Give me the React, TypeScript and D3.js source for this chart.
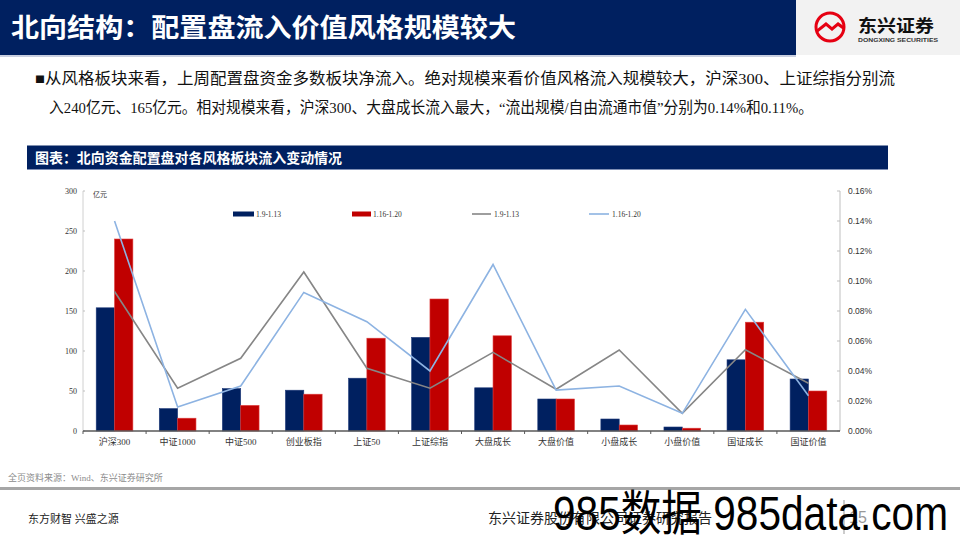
import React from "react";
import * as d3 from "d3";

const categories = ["沪深300", "中证1000", "中证500", "创业板指", "上证50", "上证综指", "大盘成长", "大盘价值", "小盘成长", "小盘价值", "国证成长", "国证价值"];
const barSeriesNames = ["1.9-1.13", "1.16-1.20"];
const barWeek1 = [154, 28, 53, 51, 66, 117, 54, 40, 15, 5, 89, 65];
const barWeek2 = [240, 16, 32, 46, 116, 165, 119, 40, 7.5, 3.5, 136, 50];
const lineWeek1 = [0.093, 0.0285, 0.0485, 0.106, 0.0418, 0.0285, 0.0524, 0.0278, 0.054, 0.0118, 0.0542, 0.0318];
const lineWeek2 = [0.140, 0.016, 0.030, 0.0924, 0.0729, 0.040, 0.111, 0.0273, 0.030, 0.0118, 0.0811, 0.0235];
const leftTicks = [0, 50, 100, 150, 200, 250, 300];
const rightTicks = [0, 0.02, 0.04, 0.06, 0.08, 0.10, 0.12, 0.14, 0.16];

const NAVY = "#002060";
const RED = "#C00000";
const GRAY = "#868686";
const LBLUE = "#8DB3E2";
const SERIF = "'Liberation Serif', 'Times New Roman', 'Noto Sans CJK SC', serif";
const SANS = "'Liberation Sans', Arial, 'Noto Sans CJK SC', sans-serif";
const CJK = "'Noto Sans CJK SC', 'Liberation Sans', sans-serif";

export default function App() {
  const W = 960, H = 540;
  const x0 = 83, x1 = 840, yZero = 431, yTop = 191;
  const x = d3.scaleBand<string>().domain(categories).range([x0, x1]).padding(0);
  const inner = d3.scaleBand<string>().domain(barSeriesNames).range([0, x.bandwidth()]).paddingInner(0).paddingOuter(0.72);
  const yL = d3.scaleLinear().domain([0, 300]).range([yZero, yTop]);
  const yR = d3.scaleLinear().domain([0, 0.16]).range([yZero, yTop]);
  const cx = (c: string) => (x(c) as number) + x.bandwidth() / 2;
  const lineGen = d3.line<number>().x((_, i) => cx(categories[i])).y((v) => yR(v));

  const bars = [barWeek1, barWeek2];
  const barColors = [NAVY, RED];
  const barStroke = ["#1F3A7A", "#E03C3C"];

  return (
    <svg width={W} height={H} style={{ position: "absolute", left: 0, top: 0, display: "block" }}>
      <rect x={0} y={0} width={W} height={H} fill="#fff" />
      {/* Header */}
      <rect x={0} y={0} width={796} height={55} fill={NAVY} />
      <rect x={796} y={0} width={164} height={55} fill="#F2F2F2" />
      <rect x={0} y={55} width={796} height={2} fill="#C9CFE0" />
      <text x={11} y={37} fill="#fff" fontFamily={CJK} fontWeight={700} fontSize={26} textLength={505} lengthAdjust="spacingAndGlyphs">北向结构：配置盘流入价值风格规模较大</text>
      {/* Logo */}
      <g>
        <circle cx={830} cy={27} r={14} fill="none" stroke="#E60012" strokeWidth={3} />
        <path d="M816,30 L826,22 L832,27 L838,22 L845,27 L845,31 L838,26 L832,31 L826,26 L817,33 Z" fill="#E60012" />
        <text x={858} y={32} fill="#111" fontFamily={CJK} fontWeight={700} fontSize={17} textLength={76} lengthAdjust="spacingAndGlyphs">东兴证券</text>
        <text x={858} y={42} fill="#333" fontFamily={SANS} fontWeight={700} fontSize={5.5} textLength={80} lengthAdjust="spacingAndGlyphs">DONGXING SECURITIES</text>
      </g>
      {/* Paragraph */}
      <text x={35} y={84} fill="#111" fontFamily={SERIF} fontSize={15.5} textLength={860} lengthAdjust="spacingAndGlyphs">■从风格板块来看，上周配置盘资金多数板块净流入。绝对规模来看价值风格流入规模较大，沪深300、上证综指分别流</text>
      <text x={49} y={113} fill="#111" fontFamily={SERIF} fontSize={15.5} textLength={764} lengthAdjust="spacingAndGlyphs">入240亿元、165亿元。相对规模来看，沪深300、大盘成长流入最大，“流出规模/自由流通市值”分别为0.14%和0.11%。</text>
      {/* Chart title bar */}
      <rect x={27} y={145.5} width={861} height={24} fill={NAVY} />
      <rect x={27} y={169} width={861} height={1} fill="#7F8FB5" />
      <text x={35} y={163} fill="#fff" fontFamily={CJK} fontWeight={700} fontSize={14} textLength={307} lengthAdjust="spacingAndGlyphs">图表：北向资金配置盘对各风格板块流入变动情况</text>

      {/* Axes */}
      <line x1={x0} x2={x0} y1={yTop} y2={yZero} stroke="#D0D0D0" strokeWidth={1} />
      {leftTicks.map((t) => (
        <g key={"l" + t}>
          <line x1={x0} x2={x0 + 2} y1={yL(t)} y2={yL(t)} stroke="#BFBFBF" />
          <text x={77} y={yL(t) + 3} textAnchor="end" fontFamily={SERIF} fontSize={8} fill="#333">{t}</text>
        </g>
      ))}
      <line x1={x1} x2={x1} y1={yTop} y2={yZero} stroke="#BFBFBF" strokeWidth={1} />
      {rightTicks.map((t) => (
        <g key={"r" + t}>
          <line x1={x1 - 3} x2={x1} y1={yR(t)} y2={yR(t)} stroke="#BFBFBF" />
          <text x={848} y={yR(t) + 3} fontFamily={SANS} fontSize={8.5} fill="#333">{(t).toFixed(2) + "%"}</text>
        </g>
      ))}
      <text x={93} y={197} fontFamily={CJK} fontSize={7} fill="#333">亿元</text>

      {/* Bars */}
      {bars.map((arr, si) =>
        arr.map((v, i) => {
          const c = categories[i];
          const bx = (x(c) as number) + (inner(barSeriesNames[si]) as number);
          return (
            <rect key={si + "-" + i} x={bx} y={yL(v)} width={inner.bandwidth()} height={yZero - yL(v)} fill={barColors[si]} stroke={barStroke[si]} strokeWidth={0.6} />
          );
        })
      )}

      {/* X axis */}
      <line x1={x0} x2={x1} y1={yZero} y2={yZero} stroke="#595959" strokeWidth={1.5} />
      {categories.map((c, i) => (
        <line key={"t" + i} x1={x(c) as number} x2={x(c) as number} y1={yZero} y2={yZero + 3} stroke="#595959" strokeWidth={1} />
      ))}
      {categories.map((c) => (
        <text key={"c" + c} x={cx(c)} y={445} textAnchor="middle" fontFamily={SERIF} fontSize={9} fill="#333">{c}</text>
      ))}

      {/* Lines */}
      <path d={lineGen(lineWeek1) as string} fill="none" stroke={GRAY} strokeWidth={1.6} />
      <path d={lineGen(lineWeek2) as string} fill="none" stroke={LBLUE} strokeWidth={1.6} />

      {/* Legend */}
      <rect x={233} y={211.5} width={21} height={5} fill={NAVY} />
      <text x={256} y={216.5} fontFamily={SERIF} fontSize={7.5} fill="#333">{barSeriesNames[0]}</text>
      <rect x={352} y={211.5} width={19} height={5} fill={RED} />
      <text x={373} y={216.5} fontFamily={SERIF} fontSize={7.5} fill="#333">{barSeriesNames[1]}</text>
      <line x1={472} x2={491} y1={214} y2={214} stroke={GRAY} strokeWidth={1.6} />
      <text x={494} y={216.5} fontFamily={SERIF} fontSize={7.5} fill="#333">{barSeriesNames[0]}</text>
      <line x1={589} x2={609} y1={214} y2={214} stroke={LBLUE} strokeWidth={1.6} />
      <text x={612} y={216.5} fontFamily={SERIF} fontSize={7.5} fill="#333">{barSeriesNames[1]}</text>

      {/* Footer */}
      <text x={8} y={481} fontFamily={SERIF} fontSize={9} fill="#8C8C8C">全页资料来源：Wind、东兴证券研究所</text>
      <rect x={0} y={487} width={W} height={3} fill="#A6A6A6" />
      <text x={28} y={523} fontFamily={SERIF} fontSize={11} fill="#222">东方财智 兴盛之源</text>
      <text x={488} y={523} fontFamily={SERIF} fontSize={14} fill="#222">东兴证券股份有限公司证券研究报告</text>
      <line x1={844} x2={844} y1={500} y2={534} stroke="#999" strokeWidth={1} />
      <text x={849} y={523} fontFamily={SANS} fontSize={16} fill="#999">15</text>
      <text x={553} y={530} fontFamily={SANS} fontSize={48} fill="#000" textLength={395} lengthAdjust="spacingAndGlyphs">985数据 985data.com</text>
    </svg>
  );
}
